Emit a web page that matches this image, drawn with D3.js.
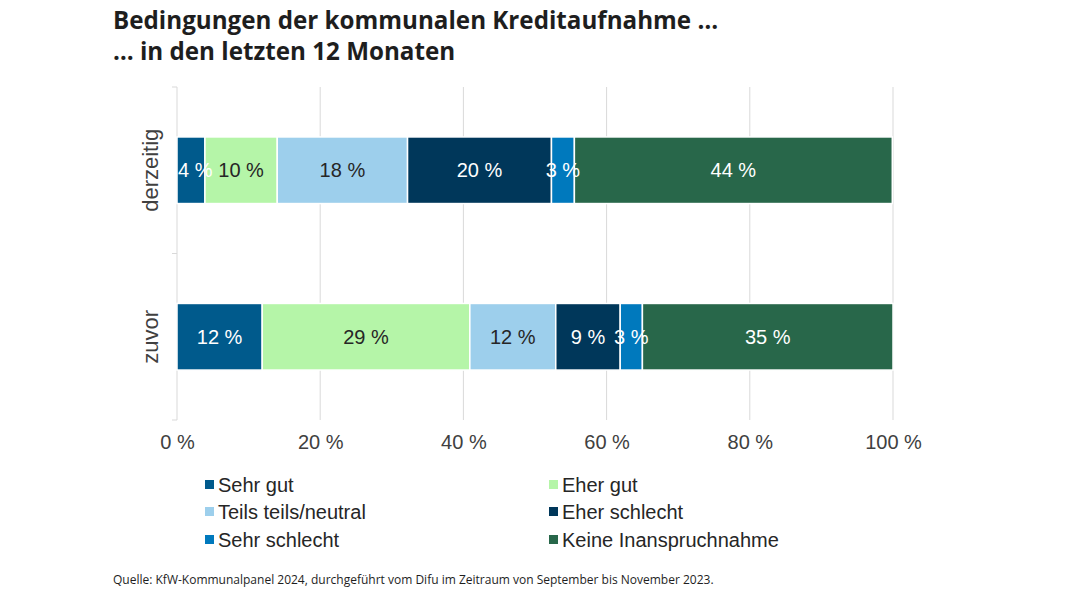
<!DOCTYPE html>
<html>
<head>
<meta charset="utf-8">
<script src="https://cdn.jsdelivr.net/npm/d3@7"></script>
<style>
  body { margin: 0; background: #fff; }
  svg { display: block; }
</style>
</head>
<body>
<div id="chart"></div>
<script>
// data
var categories = ["derzeitig", "zuvor"];
var seriesNames = ["Sehr gut", "Eher gut", "Teils teils/neutral", "Eher schlecht", "Sehr schlecht", "Keine Inanspruchnahme"];
var derzeitigValues = [3.9, 10.1, 18.2, 20.1, 3.2, 44.4];
var zuvorValues = [11.9, 29.0, 12.0, 9.0, 3.1, 35.0];
var seriesColors = ["#005a8c", "#b5f5a8", "#9dcfec", "#00375a", "#0079bd", "#28674a"];
var labelColors = ["#ffffff", "#262626", "#262626", "#ffffff", "#ffffff", "#ffffff"];
var xTicks = [0, 20, 40, 60, 80, 100];

var width = 1080, height = 608;
var margin = {top: 87, left: 177, right: 187, bottom: 188};

var svg = d3.select("#chart").append("svg")
    .attr("width", width)
    .attr("height", height);

// title
var title = svg.append("text")
    .attr("x", 113)
    .attr("font-family", "'Open Sans', sans-serif")
    .attr("font-weight", 700)
    .attr("font-size", 24.2)
    .attr("fill", "#1e1e1e");
title.append("tspan").attr("x", 113).attr("y", 29).text("Bedingungen der kommunalen Kreditaufnahme …");
title.append("tspan").attr("x", 113).attr("y", 60).text("… in den letzten 12 Monaten");

var x = d3.scaleLinear()
    .domain([0, 100])
    .range([margin.left, width - margin.right]);

var y = d3.scaleBand()
    .domain(categories)
    .range([margin.top, height - margin.bottom])
    .paddingInner(0.6)
    .paddingOuter(0.3);

// gridlines
svg.append("g")
    .selectAll("line")
    .data(xTicks.slice(1)).enter()
    .append("line")
    .attr("x1", function(d){ return x(d); })
    .attr("x2", function(d){ return x(d); })
    .attr("y1", margin.top)
    .attr("y2", height - margin.bottom)
    .attr("stroke", "#d9d9d9")
    .attr("stroke-width", 1);

// left axis with ticks between categories
var yAxisG = svg.append("g");
yAxisG.append("line")
    .attr("x1", x(0)).attr("x2", x(0))
    .attr("y1", margin.top).attr("y2", height - margin.bottom)
    .attr("stroke", "#d9d9d9");
var bandEdges = [margin.top, (y("derzeitig") + y.bandwidth() + y("zuvor")) / 2, height - margin.bottom];
yAxisG.selectAll("line.tick")
    .data(bandEdges).enter()
    .append("line")
    .attr("class", "tick")
    .attr("x1", x(0) - 5).attr("x2", x(0))
    .attr("y1", function(d){ return d; })
    .attr("y2", function(d){ return d; })
    .attr("stroke", "#d9d9d9");

// stacked bars
var rows = [derzeitigValues, zuvorValues];
rows.forEach(function(vals, ri) {
    var cat = categories[ri];
    var cum = 0;
    var segs = vals.map(function(v, i) {
        var s = {i: i, x0: cum, x1: cum + v, v: v};
        cum += v;
        return s;
    });
    var g = svg.append("g");
    g.selectAll("rect")
        .data(segs).enter()
        .append("rect")
        .attr("x", function(d){ return x(d.x0); })
        .attr("width", function(d){ return x(d.x1) - x(d.x0); })
        .attr("y", y(cat))
        .attr("height", y.bandwidth())
        .attr("fill", function(d){ return seriesColors[d.i]; })
        .attr("stroke", "#ffffff")
        .attr("stroke-width", 1.5);
    g.selectAll("text")
        .data(segs).enter()
        .append("text")
        .attr("x", function(d){ return (x(d.x0) + x(d.x1)) / 2; })
        .attr("y", y(cat) + y.bandwidth() / 2)
        .attr("dy", ".35em")
        .attr("text-anchor", "middle")
        .attr("font-family", "'Liberation Sans', Arial, sans-serif")
        .attr("font-size", 20)
        .attr("fill", function(d){ return labelColors[d.i]; })
        .text(function(d){ return Math.round(d.v) + " %"; })
        .each(keepInside);
});

// labels wider than their segment must not start left of the plot area
function keepInside() {
    var self = d3.select(this);
    var w = this.getComputedTextLength();
    var cx = +self.attr("x");
    if (cx - w / 2 < x(0) + 1) {
        self.attr("x", x(0) + 1 + w / 2);
    }
}

// category labels
svg.append("g")
    .selectAll("text")
    .data(categories).enter()
    .append("text")
    .attr("transform", function(d){
        return "translate(158," + (y(d) + y.bandwidth() / 2) + ") rotate(-90)";
    })
    .attr("text-anchor", "middle")
    .attr("font-family", "'Liberation Sans', Arial, sans-serif")
    .attr("font-size", 22)
    .attr("fill", "#404040")
    .text(function(d){ return d; });

// x axis labels
var xAxis = d3.axisBottom(x)
    .tickValues(xTicks)
    .tickSize(0)
    .tickPadding(15)
    .tickFormat(function(d){ return d + " %"; });
var xg = svg.append("g")
    .attr("transform", "translate(0," + (height - margin.bottom) + ")")
    .call(xAxis);
xg.select(".domain").remove();
xg.selectAll("text")
    .attr("font-family", "'Liberation Sans', Arial, sans-serif")
    .attr("font-size", 20)
    .attr("fill", "#404040");

// legend
var legendCols = [205, 549];
var legendRows = [485, 512, 540];
var legend = svg.append("g")
    .selectAll("g")
    .data(seriesNames).enter()
    .append("g")
    .attr("transform", function(d, i){
        return "translate(" + legendCols[i % 2] + "," + legendRows[Math.floor(i / 2)] + ")";
    });
legend.append("rect")
    .attr("x", 0).attr("y", -5)
    .attr("width", 9).attr("height", 9)
    .attr("fill", function(d, i){ return seriesColors[i]; });
legend.append("text")
    .attr("x", 13)
    .attr("dy", ".35em")
    .attr("font-family", "'Liberation Sans', Arial, sans-serif")
    .attr("font-size", 20)
    .attr("fill", "#262626")
    .text(function(d){ return d; });

// source
svg.append("text")
    .attr("x", 113)
    .attr("y", 584)
    .attr("font-family", "'Open Sans', sans-serif")
    .attr("font-size", 12)
    .attr("fill", "#1e1e1e")
    .text("Quelle: KfW-Kommunalpanel 2024, durchgeführt vom Difu im Zeitraum von September bis November 2023.");
</script>
</body>
</html>
